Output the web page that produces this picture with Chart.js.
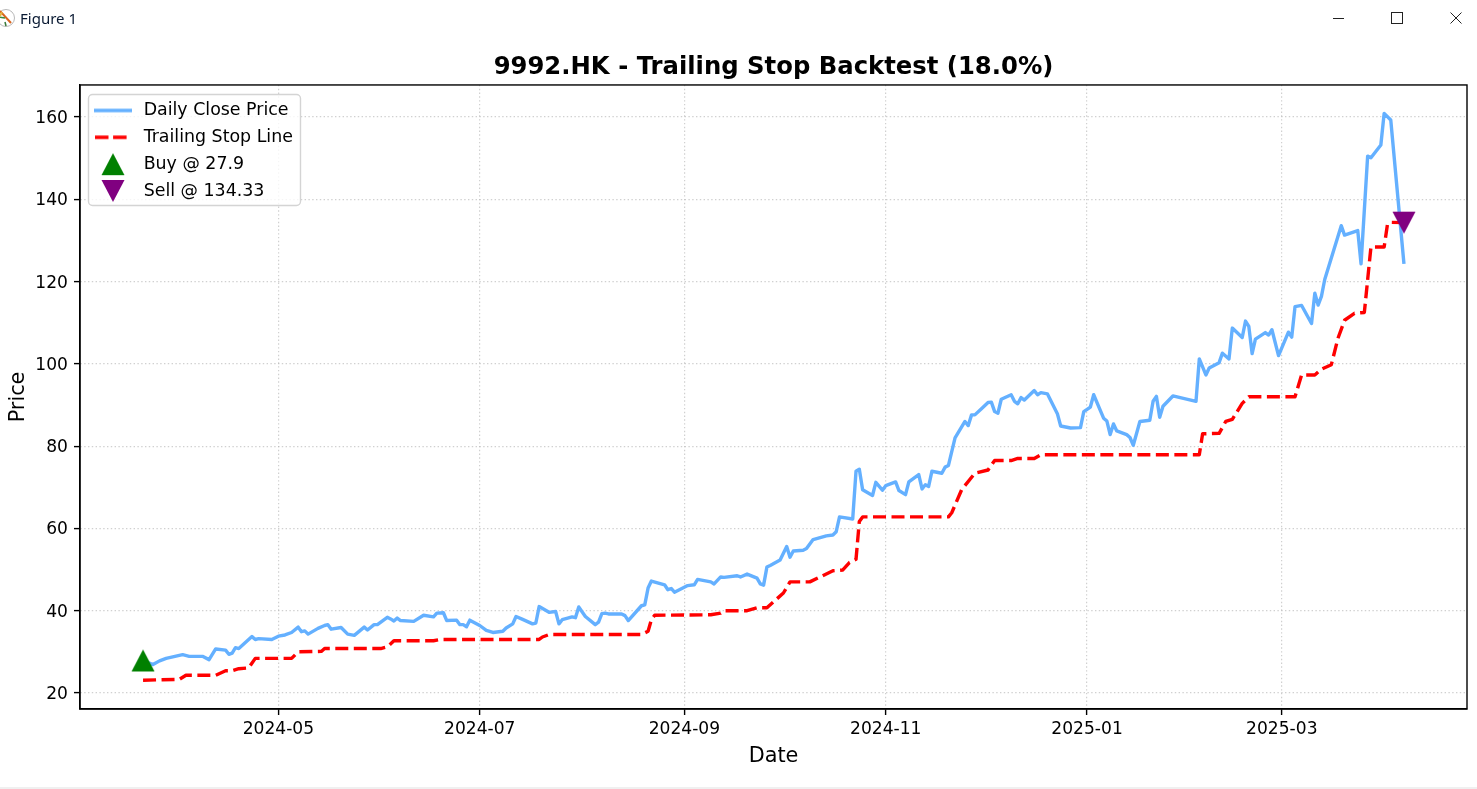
<!DOCTYPE html>
<html>
<head>
<meta charset="utf-8">
<title>Figure 1</title>
<script src="https://cdn.jsdelivr.net/npm/chart.js@4/dist/chart.umd.min.js"></script>
<style>
html, body { margin: 0; padding: 0; background: #fff; overflow: hidden; }
#wrap { position: relative; width: 1477px; height: 789px; overflow: hidden; }
#plot { position: absolute; left: 0; top: 0; }
#winTitle { position: absolute; left: 20px; top: 8px; font: 15px "Noto Sans", sans-serif; color: #0a1a33; }
#winIcon { position: absolute; left: -3px; top: 8px; }
#winButtons { position: absolute; left: 1320px; top: 8px; }
#bottomLine { position: absolute; left: 0; top: 787px; width: 1477px; height: 2px; background: #f0f0f0; }
</style>
</head>
<body>
<div id="wrap">
  <canvas id="plot" width="1480" height="789"></canvas>
  <svg id="winIcon" width="20" height="20" viewBox="0 0 20 20">
    <circle cx="9" cy="10" r="8.5" fill="#fff" stroke="#999" stroke-width="0.7"/>
    <path d="M3 3 L14 15" stroke="#d9661f" stroke-width="2"/>
    <path d="M2 9 L8 10" stroke="#3a8a3a" stroke-width="1.5"/>
    <path d="M8 14 L9 18" stroke="#3a7a3a" stroke-width="1.5"/>
    <path d="M5 4 L3 8" stroke="#e3b23c" stroke-width="2"/>
  </svg>
  <div id="winTitle">Figure 1</div>
  <svg id="winButtons" width="150" height="20" viewBox="0 0 150 20">
    <path d="M13 10.5 H24" stroke="#222" stroke-width="1"/>
    <rect x="71.5" y="4.5" width="11" height="11" fill="none" stroke="#222" stroke-width="1"/>
    <path d="M130.5 4.5 L141.5 15.5 M141.5 4.5 L130.5 15.5" stroke="#222" stroke-width="1"/>
  </svg>
  <div id="bottomLine"></div>
</div>
<script>
const chartTitle = "9992.HK - Trailing Stop Backtest (18.0%)";
const closeLabel = "Daily Close Price";
const stopLabel = "Trailing Stop Line";
const buyLabel = "Buy @ 27.9";
const sellLabel = "Sell @ 134.33";

const xTicks = ["2024-05", "2024-07", "2024-09", "2024-11", "2025-01", "2025-03"];
const yTicks = [20, 40, 60, 80, 100, 120, 140, 160];

const closeDates = [
  "2024-03-21","2024-03-24","2024-03-26","2024-03-28","2024-04-02","2024-04-04","2024-04-08","2024-04-10","2024-04-12","2024-04-15",
  "2024-04-16","2024-04-17","2024-04-18","2024-04-19","2024-04-23","2024-04-24","2024-04-25","2024-04-29","2024-05-01","2024-05-03",
  "2024-05-05","2024-05-07","2024-05-08","2024-05-09","2024-05-10","2024-05-13","2024-05-15","2024-05-16","2024-05-17","2024-05-20",
  "2024-05-22","2024-05-24","2024-05-27","2024-05-28","2024-05-30","2024-05-31","2024-06-03","2024-06-04","2024-06-05","2024-06-06",
  "2024-06-07","2024-06-11","2024-06-14","2024-06-17","2024-06-18","2024-06-20","2024-06-21","2024-06-24","2024-06-25","2024-06-26",
  "2024-06-27","2024-06-28","2024-07-01","2024-07-03","2024-07-05","2024-07-08","2024-07-09","2024-07-11","2024-07-12","2024-07-14",
  "2024-07-17","2024-07-18","2024-07-19","2024-07-22","2024-07-24","2024-07-25","2024-07-26","2024-07-29","2024-07-30","2024-07-31",
  "2024-08-02","2024-08-05","2024-08-06","2024-08-07","2024-08-08","2024-08-09","2024-08-13","2024-08-14","2024-08-15","2024-08-19",
  "2024-08-20","2024-08-21","2024-08-22","2024-08-26","2024-08-27","2024-08-28","2024-08-29","2024-09-02","2024-09-04","2024-09-05",
  "2024-09-09","2024-09-10","2024-09-12","2024-09-13","2024-09-17","2024-09-18","2024-09-20","2024-09-23","2024-09-24","2024-09-25",
  "2024-09-26","2024-09-27","2024-09-30","2024-10-02","2024-10-03","2024-10-04","2024-10-07","2024-10-08","2024-10-10","2024-10-14",
  "2024-10-16","2024-10-17","2024-10-18","2024-10-22","2024-10-23","2024-10-24","2024-10-25","2024-10-28","2024-10-29","2024-10-31",
  "2024-11-01","2024-11-04","2024-11-05","2024-11-07","2024-11-08","2024-11-11","2024-11-12","2024-11-13","2024-11-14","2024-11-15",
  "2024-11-18","2024-11-19","2024-11-20","2024-11-22","2024-11-25","2024-11-26","2024-11-27","2024-11-28","2024-11-30","2024-12-02",
  "2024-12-03","2024-12-04","2024-12-05","2024-12-06","2024-12-09","2024-12-10","2024-12-11","2024-12-12","2024-12-13","2024-12-16",
  "2024-12-17","2024-12-18","2024-12-20","2024-12-23","2024-12-24","2024-12-27","2024-12-30","2024-12-31","2025-01-02","2025-01-03",
  "2025-01-06","2025-01-07","2025-01-08","2025-01-09","2025-01-10","2025-01-13","2025-01-14","2025-01-15","2025-01-17","2025-01-20",
  "2025-01-21","2025-01-22","2025-01-23","2025-01-24","2025-01-27","2025-02-03","2025-02-04","2025-02-06","2025-02-07","2025-02-10",
  "2025-02-11","2025-02-13","2025-02-14","2025-02-17","2025-02-18","2025-02-19","2025-02-20","2025-02-21","2025-02-24","2025-02-25",
  "2025-02-26","2025-02-28","2025-03-03","2025-03-04","2025-03-05","2025-03-07","2025-03-10","2025-03-11","2025-03-12","2025-03-13",
  "2025-03-14","2025-03-19","2025-03-20","2025-03-24","2025-03-25","2025-03-27","2025-03-28","2025-03-31","2025-04-01","2025-04-03",
  "2025-04-07"
];
const closes = [
  27.9,26.9,27.8,28.4,29.3,28.9,28.9,28.1,30.7,30.4,
  29.4,29.7,31,30.8,33.7,33,33.2,33,33.8,34.1,
  34.7,36,34.9,35.1,34.3,35.7,36.4,36.6,35.5,35.9,
  34.3,34,36,35.3,36.6,36.6,38.4,38,37.5,38.2,
  37.6,37.4,38.9,38.5,39.4,39.5,37.6,37.7,36.6,36.6,
  36.1,37.7,36.4,35.2,34.7,35,35.8,36.8,38.6,37.9,
  36.8,37,41,39.6,39.8,36.8,37.8,38.5,38.3,40.9,
  38.6,36.6,37.2,39.3,39.4,39.2,39.2,38.8,37.6,41.2,
  41.4,45.5,47.2,46.3,45.1,45.4,44.5,46.1,46.3,47.6,
  47,46.5,48.2,48.1,48.5,48.2,48.9,47.9,46.5,46.2,
  50.6,51,52.3,55.6,53,54.5,54.7,55.1,57.3,58.2,
  58.4,59.2,62.8,62.3,73.9,74.4,69.4,68,71.2,69.3,
  70.4,71.3,69.2,68.2,71.3,73.1,69.6,70.6,70.2,73.9,
  73.4,74.9,75.3,82,86,85,87.6,87.6,89.1,90.6,
  90.7,88.4,88,91.4,92.5,90.9,90.3,91.8,91.2,93.5,
  92.5,93,92.7,87.9,84.9,84.4,84.5,88.4,89.5,92.5,
  86.8,86.1,82.8,85.4,83.7,82.8,82.1,80.2,86,86.3,
  90.9,92.1,87,89.7,92.2,90.9,101.2,97.3,99,100.3,
  102.6,101.2,108.7,106.4,110.4,109.1,102.5,106,107.6,107,
  108.3,102,107.7,106.5,113.9,114.2,109.8,117.2,114.3,116.4,
  120.5,133.6,131.3,132.4,124.3,150.5,150.1,153.2,160.9,159.3,
  124.3
];

const stopDates = [
  "2024-03-21","2024-04-01","2024-04-03","2024-04-12","2024-04-15","2024-04-17","2024-04-19","2024-04-22","2024-04-24","2024-05-05",
  "2024-05-07","2024-05-14","2024-05-15","2024-06-01","2024-06-03","2024-06-05","2024-06-17","2024-06-19","2024-07-19","2024-07-20",
  "2024-07-22","2024-08-19","2024-08-21","2024-08-22","2024-08-23","2024-09-09","2024-09-12","2024-09-13","2024-09-20","2024-09-23",
  "2024-09-26","2024-10-01","2024-10-03","2024-10-09","2024-10-16","2024-10-19","2024-10-21","2024-10-23","2024-10-24","2024-10-25",
  "2024-11-20","2024-11-21","2024-11-24","2024-11-28","2024-12-02","2024-12-04","2024-12-09","2024-12-11","2024-12-16","2024-12-18",
  "2025-02-04","2025-02-05","2025-02-10","2025-02-12","2025-02-14","2025-02-17","2025-02-19","2025-03-05","2025-03-07","2025-03-11",
  "2025-03-13","2025-03-16","2025-03-18","2025-03-20","2025-03-23","2025-03-26","2025-03-28","2025-04-01","2025-04-02","2025-04-03",
  "2025-04-07"
];
const stops = [
  23.1,23.3,24.3,24.3,25.4,25.4,25.9,26.1,28.4,28.4,
  30,30.1,30.8,30.8,31.2,32.7,32.7,33,33,33.6,
  34.2,34.2,35,37.8,38.9,39,39.4,40,40,40.7,
  40.7,44.3,47,47,49.7,49.9,51.7,52.5,61.7,62.8,
  62.8,63.8,69.4,73.4,74.2,76.5,76.5,77,77,77.9,
  77.9,83,83.1,86,86.5,90.4,92,92,97.3,97.3,
  98.7,99.8,106.2,110.6,112.3,112.5,128.4,128.4,133.9,134.4,
  134.33
];

const buyDate = "2024-03-21";
const buyPrice = 27.9;
const sellDate = "2025-04-07";
const sellPrice = 134.33;

const FONT = '"DejaVu Sans", sans-serif';
const toDay = (s) => Date.parse(s) / 86400000;
const toPoints = (dates, vals) => dates.map((d, i) => ({x: toDay(d), y: vals[i]}));

// matplotlib keeps 5% margin around the data
const xFirst = toDay(buyDate);
const xLast = toDay(sellDate);
const xPad = (xLast - xFirst) * 0.05;

function triangleSprite(color, down) {
    const c = document.createElement("canvas");
    c.width = 24;
    c.height = 24;
    const g = c.getContext("2d");
    g.fillStyle = color;
    g.beginPath();
    if (down) {
        g.moveTo(0.5, 1);
        g.lineTo(23.5, 1);
        g.lineTo(12, 23);
    } else {
        g.moveTo(0.5, 23);
        g.lineTo(23.5, 23);
        g.lineTo(12, 1);
    }
    g.closePath();
    g.fill();
    return c;
}

function lineSprite(color, dash) {
    const c = document.createElement("canvas");
    c.width = 38;
    c.height = 6;
    const g = c.getContext("2d");
    g.strokeStyle = color;
    g.lineWidth = 3.4;
    g.setLineDash(dash);
    g.beginPath();
    g.moveTo(dash.length ? 1 : 0, 3);
    g.lineTo(dash.length ? 34 : 38, 3);
    g.stroke();
    return c;
}

const buyMark = triangleSprite("#008000", false);
const sellMark = triangleSprite("#800080", true);
const handles = [lineSprite("#64b0ff", []), lineSprite("#ff0000", [13.5, 4.6]), buyMark, sellMark];

// legend sits inside the axes, with a translucent frame over the grid
const legendFrame = {
    id: "legendFrame",
    afterLayout(chart) {
        chart.legend.left = 81.5;
        chart.legend.top = 92.3;
    },
    beforeDraw(chart) {
        const legend = chart.legend;
        if (legend.framed) return;
        legend.framed = true;
        const draw = legend.draw;
        legend.draw = function () {
            const g = chart.ctx;
            g.save();
            g.fillStyle = "rgba(255,255,255,0.8)";
            g.strokeStyle = "#d4d4d4";
            g.lineWidth = 1.4;
            g.beginPath();
            g.roundRect(88.5, 94.5, 212, 111, 4);
            g.fill();
            g.stroke();
            g.restore();
            draw.call(this);
        };
    }
};

const axesBox = {
    id: "axesBox",
    afterDatasetsDraw(chart) {
        const a = chart.chartArea;
        const g = chart.ctx;
        g.save();
        g.strokeStyle = "#000";
        g.lineWidth = 1.4;
        g.strokeRect(a.left, a.top, a.right - a.left, a.bottom - a.top);
        g.restore();
    }
};

new Chart(document.getElementById("plot"), {
    type: "line",
    data: {
        datasets: [
            {label: closeLabel, data: toPoints(closeDates, closes), borderColor: "#64b0ff", borderWidth: 3.4, pointRadius: 0, tension: 0, borderJoinStyle: "round", order: 3},
            {label: stopLabel, data: toPoints(stopDates, stops), borderColor: "#ff0000", borderWidth: 3.4, borderDash: [13, 5.5], pointRadius: 0, tension: 0, borderJoinStyle: "round", order: 2},
            {label: buyLabel, data: toPoints([buyDate], [buyPrice]), showLine: false, pointStyle: buyMark, pointRadius: 12, order: 1},
            {label: sellLabel, data: toPoints([sellDate], [sellPrice]), showLine: false, pointStyle: sellMark, pointRadius: 12, order: 0}
        ]
    },
    options: {
        responsive: false,
        animation: false,
        devicePixelRatio: 1,
        layout: {padding: {left: 0, right: 10, top: 0, bottom: 0}},
        plugins: {
            tooltip: {enabled: false},
            title: {
                display: true,
                text: chartTitle,
                color: "#000",
                fullSize: false,
                font: {family: FONT, size: 24.3, weight: "bold", lineHeight: 1.2},
                padding: {top: 53.4, bottom: 2.4}
            },
            legend: {
                position: "chartArea",
                align: "start",
                labels: {
                    usePointStyle: true,
                    pointStyleWidth: 44,
                    color: "#000",
                    padding: 9.45,
                    font: {family: FONT, size: 17.4, lineHeight: 1.2},
                    generateLabels: (chart) => chart.data.datasets.map((d, i) => ({
                        text: d.label,
                        pointStyle: handles[i],
                        datasetIndex: i
                    }))
                }
            }
        },
        scales: {
            x: {
                type: "linear",
                min: xFirst - xPad,
                max: xLast + xPad,
                afterFit: (s) => { s.height = 80; s.paddingLeft = 0; s.paddingRight = 0; },
                afterBuildTicks: (s) => { s.ticks = xTicks.map((t) => ({value: toDay(t + "-01")})); },
                title: {display: true, text: "Date", color: "#000", font: {family: FONT, size: 20.8}, padding: {top: 0, bottom: 20}},
                grid: {color: "rgba(176,176,176,0.6)", lineWidth: 1.2, tickColor: "#000", tickLength: 6, tickWidth: 1.4, tickBorderDash: [], drawOnChartArea: true},
                border: {color: "#000", width: 1.4, dash: [1.4, 2.4]},
                ticks: {
                    color: "#000",
                    padding: 4,
                    maxRotation: 0,
                    autoSkip: false,
                    font: {family: FONT, size: 17.1},
                    callback: (v, i) => xTicks[i]
                }
            },
            y: {
                type: "linear",
                min: 16.1,
                max: 167.8,
                afterFit: (s) => { s.width = 80; },
                afterBuildTicks: (s) => { s.ticks = yTicks.map((v) => ({value: v})); },
                title: {display: true, text: "Price", color: "#000", font: {family: FONT, size: 20.8}, padding: {top: 6, bottom: 0}},
                grid: {color: "rgba(176,176,176,0.6)", lineWidth: 1.2, tickColor: "#000", tickLength: 6, tickWidth: 1.4, tickBorderDash: []},
                border: {color: "#000", width: 1.4, dash: [1.4, 2.4]},
                ticks: {
                    color: "#000",
                    padding: 6,
                    labelOffset: 1.5,
                    font: {family: FONT, size: 17.1},
                    callback: (v) => String(v)
                }
            }
        }
    },
    plugins: [legendFrame, axesBox]
});
</script>
</body>
</html>
